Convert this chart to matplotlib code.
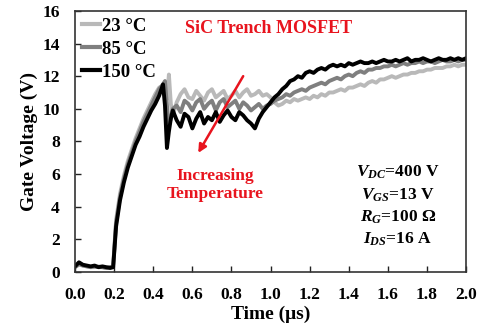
import matplotlib
matplotlib.use("Agg")
import matplotlib.pyplot as plt

plt.rcParams['font.family'] = ['Liberation Serif', 'DejaVu Serif']
plt.rcParams['font.weight'] = 'bold'
plt.rcParams['mathtext.fontset'] = 'custom'
plt.rcParams['mathtext.it'] = 'Liberation Serif:italic:bold'
plt.rcParams['mathtext.rm'] = 'Liberation Serif:bold'

# ---- sampled gate-voltage waveforms (time in us, voltage in V) ----
time_us = [0.00, 0.02, 0.04, 0.06, 0.08, 0.10, 0.12, 0.14, 0.16, 0.18, 0.195,
           0.21, 0.23, 0.25, 0.27, 0.29, 0.31, 0.33, 0.35, 0.37, 0.39, 0.41, 0.43,
           0.45, 0.46, 0.47, 0.48, 0.49, 0.50,
           0.52, 0.54, 0.56, 0.58, 0.60, 0.62, 0.64, 0.66, 0.68, 0.70,
           0.72, 0.74, 0.76, 0.78, 0.80, 0.82, 0.84, 0.86, 0.88, 0.90,
           0.92, 0.94, 0.96, 0.98,
           1.00, 1.02, 1.04, 1.06, 1.08, 1.10, 1.12, 1.14, 1.16, 1.18,
           1.20, 1.22, 1.24, 1.26, 1.28, 1.30, 1.32, 1.34, 1.36, 1.38,
           1.40, 1.42, 1.44, 1.46, 1.48, 1.50, 1.52, 1.54, 1.56, 1.58,
           1.60, 1.62, 1.64, 1.66, 1.68, 1.70, 1.72, 1.74, 1.76, 1.78,
           1.80, 1.82, 1.84, 1.86, 1.88, 1.90, 1.92, 1.94, 1.96, 1.98, 2.00]

vg_23C = [0.3, 0.45, 0.4, 0.35, 0.3, 0.3, 0.35, 0.3, 0.25, 0.3, 0.35,
          3.2, 4.8, 5.9, 6.8, 7.5, 8.2, 8.8, 9.4, 9.9, 10.4, 10.9, 11.3,
          11.4, 11.0, 10.6, 12.1, 10.3, 9.6,
          10.4, 10.9, 11.2, 10.7, 10.6, 11.1, 10.8, 10.5, 11.0, 11.2,
          10.7, 10.9, 11.1, 10.6, 10.8, 11.1, 10.7, 11.0, 11.2, 10.8,
          10.9, 11.1, 10.8, 10.9,
          10.7, 10.4, 10.2, 10.3, 10.5, 10.4, 10.6, 10.5, 10.6, 10.7,
          10.6, 10.8, 10.7, 10.9, 10.8, 11.0, 11.0, 11.1, 11.2, 11.1,
          11.3, 11.3, 11.4, 11.5, 11.4, 11.6, 11.7, 11.6, 11.8, 11.8,
          11.9, 12.0, 11.9, 12.0, 12.1, 12.1, 12.2, 12.2, 12.3, 12.3,
          12.4, 12.4, 12.5, 12.5, 12.5, 12.6, 12.6, 12.7, 12.6, 12.7, 12.7]

vg_85C = [0.3, 0.5, 0.4, 0.35, 0.3, 0.35, 0.3, 0.3, 0.25, 0.3, 0.35,
          3.0, 4.6, 5.7, 6.6, 7.3, 8.0, 8.6, 9.2, 9.7, 10.2, 10.7, 11.2,
          11.5, 11.7, 10.2, 9.0, 9.4, 10.0,
          10.2, 9.8, 10.5, 10.3, 9.9, 10.4, 10.6, 10.0, 10.3, 10.5,
          9.9, 10.4, 10.6, 10.1, 10.3, 10.5, 10.0, 10.4, 10.2, 9.9,
          10.1, 10.3, 10.0, 10.2,
          10.3, 10.5, 10.6, 10.7, 10.9, 10.8, 11.0, 11.1, 11.2, 11.1,
          11.3, 11.4, 11.5, 11.6, 11.5, 11.7, 11.8, 11.9, 11.8, 12.0,
          12.1, 12.0, 12.2, 12.3, 12.2, 12.4, 12.4, 12.5, 12.5, 12.6,
          12.6, 12.7, 12.6, 12.7, 12.8, 12.7, 12.8, 12.8, 12.9, 12.8,
          12.9, 12.9, 12.8, 12.9, 13.0, 12.9, 12.9, 13.0, 12.9, 13.0, 13.0]

vg_150C = [0.35, 0.6, 0.45, 0.4, 0.35, 0.4, 0.3, 0.35, 0.3, 0.25, 0.3,
           2.8, 4.4, 5.5, 6.4, 7.1, 7.8, 8.3, 8.9, 9.4, 9.9, 10.3, 10.8,
           11.5, 10.2, 7.6, 8.6, 9.4, 9.9,
           9.3, 8.9, 9.7, 9.5, 8.8, 9.4, 9.8, 9.1, 9.5, 9.3,
           9.8, 9.2, 9.6, 9.9, 9.5, 9.3, 9.8, 9.6, 9.3, 9.1,
           8.8, 9.4, 9.8, 10.1,
           10.4, 10.7, 10.9, 11.2, 11.4, 11.7, 11.8, 12.0, 11.9, 12.2,
           12.3, 12.2, 12.4, 12.5, 12.4, 12.6, 12.7, 12.6, 12.7, 12.6,
           12.8, 12.7, 12.8, 12.9, 12.8, 12.8, 12.9, 12.8, 12.9, 13.0,
           12.9, 12.9, 13.0, 12.9, 13.0, 13.1, 12.9, 13.0, 13.0, 13.1,
           13.0, 12.9, 13.0, 13.1, 13.0, 13.0, 13.1, 13.0, 13.1, 13.0, 13.1]

series_labels = ['23 °C', '85 °C', '150 °C']
series_colors = ['#b9b9b9', '#7f7f7f', '#000000']

x_ticks = [0.0, 0.2, 0.4, 0.6, 0.8, 1.0, 1.2, 1.4, 1.6, 1.8, 2.0]
y_ticks = [0, 2, 4, 6, 8, 10, 12, 14, 16]

conditions = [r'$V_{DC}$=400 V', r'$V_{GS}$=13 V',
              r'$R_{G}$=100 Ω', r'$I_{DS}$=16 A']

red = '#e8141e'

fig = plt.figure(figsize=(4.81, 3.29), dpi=100)
ax = fig.add_axes([0.156, 0.173, 0.813, 0.794])

for vals, lab, col in zip([vg_23C, vg_85C, vg_150C], series_labels, series_colors):
    ax.plot(time_us, vals, color=col, lw=2.8, label=lab,
            solid_joinstyle='round')

ax.set_xlim(0, 2.0)
ax.set_ylim(0, 16)
ax.set_xticks(x_ticks)
ax.set_xticklabels([f'{v:.1f}' for v in x_ticks])
ax.set_yticks(y_ticks)
ax.tick_params(direction='in', length=4, width=1, labelsize=12.5, pad=11,
               colors='#222222', labelcolor='black')
for s in ax.spines.values():
    s.set_linewidth(1.2)
    s.set_color('#333333')

ax.set_xlabel('Time (μs)', fontsize=14, fontweight='bold', labelpad=2)
ax.set_ylabel('Gate Voltage (V)', fontsize=14, fontweight='bold', labelpad=3)

leg = ax.legend(loc='upper left', frameon=False, fontsize=13.5,
                handlelength=1.0, handletextpad=0.1, labelspacing=0.32,
                borderaxespad=0.2, borderpad=0.15)
for h in leg.legend_handles:
    h.set_linewidth(3)

ax.text(0.99, 14.9, 'SiC Trench MOSFET', color=red, fontsize=13,
        fontweight='bold', ha='center', va='center')

ax.annotate('', xy=(0.63, 7.3), xytext=(0.86, 12.0),
            arrowprops=dict(arrowstyle='-|>', color=red, lw=1.8,
                            mutation_scale=12, shrinkA=0, shrinkB=0))
ax.text(0.716, 5.35, 'Increasing\nTemperature', color=red, fontsize=12.5,
        fontweight='bold', ha='center', va='center', linespacing=1.15)

for i, s in enumerate(conditions):
    ax.text(1.65, 6.1 - i * 1.37, s, fontsize=12.5, fontweight='bold',
            ha='center', va='center')

fig.savefig('out.png', dpi=100)
